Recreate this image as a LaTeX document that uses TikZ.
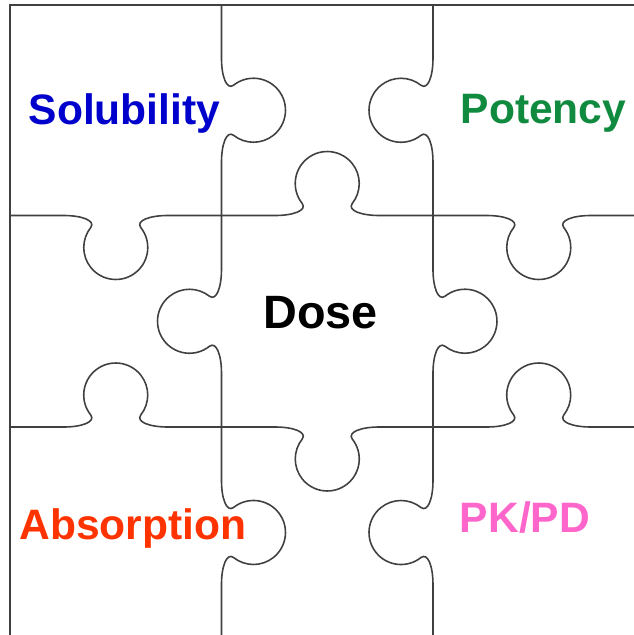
\documentclass[tikz,border=0pt]{standalone}
\usepackage{fontspec}
\setmainfont{Liberation Sans}
\definecolor{solblue}{RGB}{0,0,204}
\definecolor{potgreen}{RGB}{16,138,62}
\definecolor{absred}{RGB}{255,51,0}
\definecolor{pkpink}{RGB}{255,102,204}
\tikzset{
  piece/.style={draw=black!75, line width=0.45pt},
  word/.style={font=\fontsize{12.1}{14}\selectfont\bfseries, anchor=base, inner sep=0pt}
}
% one edge of a piece with its knob, centred at (#1,#2), turned by #3
\newcommand{\puzzleedge}[3]{%
  \begin{scope}[shift={(#1,#2)}, rotate=#3]
    \draw[piece] (-105.75,0) -- (-52,0) .. controls (-34,0) and (-20,5) .. (-25,12)
      arc[start angle=218.66, end angle=-38.66, radius=32]
      .. controls (20,5) and (34,0) .. (52,0) -- (105.75,0);
  \end{scope}}
\begin{document}
\begin{tikzpicture}[x=0.01cm, y=0.01cm]
\useasboundingbox (0,0) rectangle (634,635);
\clip (0,0) rectangle (634,635);
\draw[piece] (10,-5) -- (10,630) -- (650,630);
%%%% horizontal edges
\puzzleedge{115.75}{419.5}{180}
\puzzleedge{327.25}{419.5}{0}
\puzzleedge{538.75}{419.5}{180}
\puzzleedge{115.75}{208}{0}
\puzzleedge{327.25}{208}{180}
\puzzleedge{538.75}{208}{0}
%%%% vertical edges
\puzzleedge{221.5}{524.75}{-90}
\puzzleedge{221.5}{313.75}{90}
\puzzleedge{221.5}{102.5}{-90}
\puzzleedge{433}{524.75}{90}
\puzzleedge{433}{313.75}{-90}
\puzzleedge{433}{102.5}{90}
%%%%
\node[word, text=solblue] (solubility) at (124.5,511) {Solubility};
\node[word, text=potgreen] (potency) at (543.5,511.5) {Potency};
\node[word, font=\fontsize{13.3}{15}\selectfont\bfseries] (dose) at (320.5,306.5) {Dose};
\node[word, text=absred] (absorption) at (133,96) {Absorption};
\node[word, text=pkpink] (pkpd) at (525,103) {PK/PD};
\end{tikzpicture}
\end{document}
